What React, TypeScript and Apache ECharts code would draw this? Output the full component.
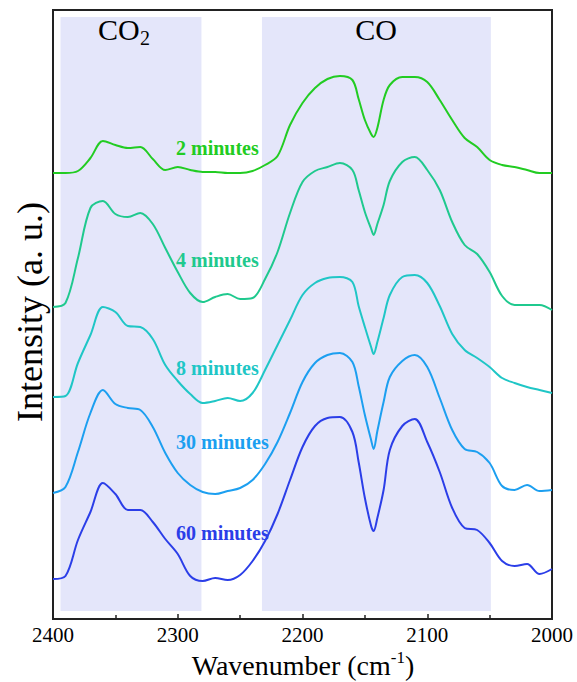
import React, { useEffect, useRef } from "react";
import * as echarts from "echarts";

const wavenumbers = [2400, 2390, 2380, 2370, 2360, 2350, 2340, 2330, 2320, 2310, 2300, 2290, 2280, 2270, 2260, 2250, 2240, 2230, 2220, 2210, 2200, 2190, 2180, 2170, 2160, 2155, 2150, 2145, 2143, 2140, 2135, 2130, 2120, 2110, 2100, 2090, 2080, 2070, 2060, 2050, 2040, 2030, 2020, 2010, 2000];

const min2 = [446, 446, 448, 461, 478, 474, 471, 472, 460, 449, 452, 449, 447, 447, 446, 446, 448, 454, 463, 494, 516, 531, 540, 543, 539, 520, 499, 485, 482, 491, 519, 534, 542, 542, 537, 519, 499, 481, 472, 459, 454, 452, 449, 446, 446];
const min4 = [312, 316, 361, 411, 418, 405, 402, 406, 395, 371, 347, 326, 317, 322, 325, 320, 321, 340, 367, 406, 437, 448, 452, 456, 449, 429, 407, 390, 384, 395, 414, 438, 457, 462, 449, 429, 397, 374, 365, 347, 323, 314, 314, 314, 309];
const min8 = [222, 223, 256, 284, 312, 307, 293, 292, 280, 254, 238, 225, 216, 218, 221, 218, 226, 249, 274, 299, 324, 336, 341, 342, 337, 313, 292, 272, 265, 277, 301, 324, 342, 344, 336, 313, 285, 269, 261, 252, 241, 236, 232, 229, 226];
const min30 = [126, 132, 167, 206, 229, 215, 211, 209, 192, 166, 146, 134, 127, 125, 128, 131, 139, 155, 177, 206, 237, 256, 264, 266, 257, 233, 204, 179, 170, 188, 217, 242, 258, 264, 252, 221, 189, 170, 167, 156, 133, 129, 134, 128, 129];
const min60 = [40, 43, 79, 107, 136, 125, 109, 109, 97, 80, 65, 43, 38, 41, 39, 44, 58, 78, 105, 139, 172, 193, 201, 202, 187, 157, 121, 93, 88, 101, 129, 169, 193, 200, 177, 147, 111, 91, 89, 76, 58, 53, 55, 45, 50];

const seriesNames = ["2 minutes", "4 minutes", "8 minutes", "30 minutes", "60 minutes"];
const seriesValues = [min2, min4, min8, min30, min60];
const seriesColors = ["#22cc22", "#1fc98e", "#1fc6c6", "#1c9ff0", "#2b3ee8"];

const bandCO2 = [2394, 2281];
const bandCO = [2232.5, 2049];
const bandY = [8, 602];

const xTicks = { min: 2000, max: 2400, interval: 100 };

// label anchor positions (left, middle) in pixels
const labelPos = [
  [176, 148],
  [176, 260],
  [176, 368],
  [176, 442],
  [176, 533],
];

const App: React.FC = () => {
  const ref = useRef<HTMLDivElement>(null);

  useEffect(() => {
    if (!ref.current) return;
    const chart = echarts.init(ref.current, undefined, { renderer: "svg" });
    const serif = "'Liberation Serif', 'Times New Roman', serif";

    const series: any[] = seriesValues.map((vals, i) => ({
      name: seriesNames[i],
      type: "line",
      data: vals.map((v, j) => [wavenumbers[j], v]),
      showSymbol: false,
      smooth: 0.33,
      lineStyle: { color: seriesColors[i], width: 2 },
      itemStyle: { color: seriesColors[i] },
      z: 3,
    }));

    series.unshift({
      name: "bands",
      type: "line",
      data: [],
      z: 1,
      markArea: {
        silent: true,
        itemStyle: { color: "#e4e6fa" },
        data: [
          [{ xAxis: bandCO2[0], yAxis: bandY[0] }, { xAxis: bandCO2[1], yAxis: bandY[1] }],
          [{ xAxis: bandCO[0], yAxis: bandY[0] }, { xAxis: bandCO[1], yAxis: bandY[1] }],
        ],
      },
    });

    const graphics: any[] = seriesNames.map((n, i) => ({
      type: "text",
      x: labelPos[i][0],
      y: labelPos[i][1],
      z: 10,
      style: {
        text: n,
        fill: seriesColors[i],
        font: `bold 20px ${serif}`,
        align: "left",
        verticalAlign: "middle",
      },
    }));

    graphics.push(
      {
        type: "text",
        x: 98,
        y: 29,
        z: 10,
        style: {
          text: "CO",
          fill: "#000",
          font: `30px ${serif}`,
          align: "left",
          verticalAlign: "middle",
        },
      },
      {
        type: "text",
        x: 140,
        y: 38,
        z: 10,
        style: {
          text: "2",
          fill: "#000",
          font: `20px ${serif}`,
          align: "left",
          verticalAlign: "middle",
        },
      },
      {
        type: "text",
        x: 376,
        y: 29,
        z: 10,
        style: {
          text: "CO",
          fill: "#000",
          font: `30px ${serif}`,
          align: "center",
          verticalAlign: "middle",
        },
      },
      {
        type: "text",
        x: 30,
        y: 312,
        rotation: Math.PI / 2,
        z: 10,
        style: {
          text: "Intensity (a. u.)",
          fill: "#000",
          font: `36px ${serif}`,
          align: "center",
          verticalAlign: "middle",
        },
      },
      {
        type: "text",
        x: 303,
        y: 665,
        z: 10,
        style: {
          text: "{a|Wavenumber (cm}{s|-1}{a|)}",
          align: "center",
          verticalAlign: "middle",
          font: `28px ${serif}`,
          rich: {
            a: { font: `28px ${serif}`, fontFamily: serif, fontSize: 28, fill: "#000", lineHeight: 32 },
            s: { font: `17px ${serif}`, fontFamily: serif, fontSize: 17, fill: "#000", verticalAlign: "top", lineHeight: 17 },
          },
        },
      }
    );

    chart.setOption({
      animation: false,
      backgroundColor: "#fff",
      grid: {
        left: 53,
        right: 25,
        top: 10,
        bottom: 63,
        show: true,
        borderColor: "#222",
        borderWidth: 2,
        backgroundColor: "transparent",
      },
      xAxis: {
        type: "value",
        min: xTicks.min,
        max: xTicks.max,
        interval: xTicks.interval,
        inverse: true,
        axisLine: { show: true, lineStyle: { color: "#222", width: 2 } },
        axisTick: { show: true, inside: true, length: 5, lineStyle: { color: "#222", width: 1.5 } },
        minorTick: { show: true, splitNumber: 2, length: 4, lineStyle: { color: "#222", width: 1.5 } },
        axisLabel: {
          color: "#000",
          fontFamily: serif,
          fontSize: 21,
          margin: 5,
          formatter: (v: number) => String(v),
        },
        splitLine: { show: false },
      },
      yAxis: {
        type: "value",
        min: 0,
        max: 609,
        axisLine: { show: true, lineStyle: { color: "#222", width: 2 } },
        axisTick: { show: false },
        axisLabel: { show: false },
        splitLine: { show: false },
      },
      series,
      graphic: graphics,
    });

    return () => chart.dispose();
  }, []);

  return (
    <div
      ref={ref}
      style={{ position: "fixed", left: 0, top: 0, width: 577, height: 682, background: "#fff" }}
    />
  );
};

export default App;
